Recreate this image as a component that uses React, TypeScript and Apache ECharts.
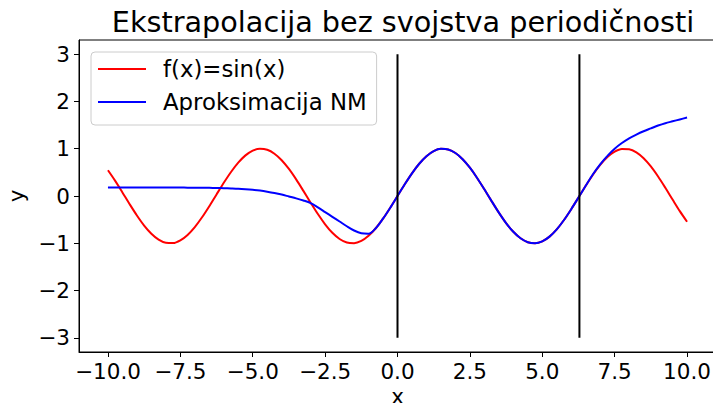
import React, { useEffect, useRef } from "react";
import * as echarts from "echarts";

const TITLE = "Ekstrapolacija bez svojstva periodičnosti";
const SIN_LABEL = "f(x)=sin(x)";
const NM_LABEL = "Aproksimacija NM";

const xs = [
  -10, -9.75, -9.5, -9.25, -9, -8.75, -8.5, -8.25, -8, -7.75, -7.5, -7.25, -7, -6.75, -6.5, -6.25,
  -6, -5.75, -5.5, -5.25, -5, -4.75, -4.5, -4.25, -4, -3.75, -3.5, -3.25, -3, -2.75, -2.5, -2.25,
  -2, -1.75, -1.5, -1.25, -1, -0.75, -0.5, -0.25, 0, 0.25, 0.5, 0.75, 1, 1.25, 1.5, 1.75,
  2, 2.25, 2.5, 2.75, 3, 3.25, 3.5, 3.75, 4, 4.25, 4.5, 4.75, 5, 5.25, 5.5, 5.75,
  6, 6.25, 6.5, 6.75, 7, 7.25, 7.5, 7.75, 8, 8.25, 8.5, 8.75, 9, 9.25, 9.5, 9.75, 10,
];
const sinY = [
  0.544, 0.32, 0.075, -0.174, -0.412, -0.625, -0.798, -0.923, -0.989, -0.995, -0.938, -0.823, -0.657, -0.45, -0.215, 0.033,
  0.279, 0.508, 0.706, 0.859, 0.959, 0.999, 0.978, 0.895, 0.757, 0.572, 0.351, 0.108, -0.141, -0.382, -0.598, -0.778,
  -0.909, -0.984, -0.997, -0.949, -0.841, -0.682, -0.479, -0.247, 0, 0.247, 0.479, 0.682, 0.841, 0.949, 0.997, 0.984,
  0.909, 0.778, 0.598, 0.382, 0.141, -0.108, -0.351, -0.572, -0.757, -0.895, -0.978, -0.999, -0.959, -0.859, -0.706, -0.508,
  -0.279, -0.033, 0.215, 0.45, 0.657, 0.823, 0.938, 0.995, 0.989, 0.923, 0.798, 0.625, 0.412, 0.174, -0.075, -0.32, -0.544,
];
const nmY = [
  0.18, 0.18, 0.18, 0.18, 0.18, 0.18, 0.18, 0.18, 0.179, 0.179, 0.178, 0.177, 0.176, 0.174, 0.172, 0.169,
  0.166, 0.161, 0.155, 0.145, 0.132, 0.115, 0.092, 0.064, 0.03, -0.01, -0.05, -0.095, -0.15, -0.24, -0.34, -0.44,
  -0.54, -0.64, -0.73, -0.79, -0.8, -0.682, -0.479, -0.247, 0, 0.247, 0.479, 0.682, 0.841, 0.949, 0.997, 0.984,
  0.909, 0.778, 0.598, 0.382, 0.141, -0.108, -0.351, -0.572, -0.757, -0.895, -0.978, -0.999, -0.959, -0.859, -0.706, -0.508,
  -0.279, -0.033, 0.215, 0.46, 0.67, 0.85, 1.0, 1.12, 1.22, 1.3, 1.37, 1.43, 1.49, 1.54, 1.58, 1.62, 1.66,
];

const vlineX = [0, 6.283];
const vlineY = [-3, 3];

const xTicks = [-10, -7.5, -5, -2.5, 0, 2.5, 5, 7.5, 10];
const yTicks = [-3, -2, -1, 0, 1, 2, 3];

const FONT = "DejaVu Sans";
const fmtMinus = (s: string) => s.replace("-", "\u2212");

export default function App() {
  const ref = useRef<HTMLDivElement>(null);
  useEffect(() => {
    document.body.style.margin = "0";
    const chart = echarts.init(ref.current!, null, { renderer: "svg" });
    const tickStyle = { color: "#000", fontSize: 21.5, fontFamily: FONT };
    const vlineSeries = vlineX.map((vx) => ({
      type: "line",
      data: vlineY.map((vy) => [vx, vy]),
      symbol: "none",
      lineStyle: { color: "#000", width: 2 },
      silent: true,
      z: 3,
    }));
    chart.setOption({
      animation: false,
      title: {
        text: TITLE,
        left: 398,
        textAlign: "center",
        top: 2,
        textStyle: { color: "#000", fontSize: 28.7, fontWeight: "normal", fontFamily: FONT },
      },
      grid: {
        left: 79,
        top: 40,
        width: 637,
        height: 312,
        show: true,
        borderColor: "#000",
        borderWidth: 1,
        containLabel: false,
        outerBoundsMode: "none",
      },
      legend: {
        left: 91,
        top: 52,
        orient: "vertical",
        data: [
          { name: SIN_LABEL, icon: "rect" },
          { name: NM_LABEL, icon: "rect" },
        ],
        itemWidth: 48,
        itemHeight: 2,
        itemGap: 7,
        padding: [4, 10, 10, 7],
        borderColor: "#cccccc",
        borderWidth: 1,
        borderRadius: 4,
        backgroundColor: "rgba(255,255,255,0.8)",
        textStyle: { color: "#000", fontSize: 22.8, fontFamily: FONT, lineHeight: 26, padding: [0, 0, 0, 12] },
      },
      xAxis: {
        type: "value",
        min: -11,
        max: 11,
        name: "x",
        nameLocation: "middle",
        nameGap: 34,
        nameMoveOverlap: false,
        nameTextStyle: { ...tickStyle, lineHeight: 21 },
        axisLine: { show: true, onZero: false, lineStyle: { color: "#000", width: 1 } },
        axisTick: { show: true, inside: false, length: 5, lineStyle: { color: "#000" }, customValues: xTicks },
        axisLabel: {
          ...tickStyle,
          margin: 8,
          customValues: xTicks,
          formatter: (v: number) => fmtMinus(v.toFixed(1)),
        },
        splitLine: { show: false },
      },
      yAxis: {
        type: "value",
        min: -3.3,
        max: 3.3,
        name: "y",
        nameLocation: "middle",
        nameGap: 50,
        nameTextStyle: tickStyle,
        axisLine: { show: true, onZero: false, lineStyle: { color: "#000", width: 1 } },
        axisTick: { show: true, inside: false, length: 5, lineStyle: { color: "#000" }, customValues: yTicks },
        axisLabel: {
          ...tickStyle,
          margin: 9,
          customValues: yTicks,
          formatter: (v: number) => fmtMinus(String(v)),
        },
        splitLine: { show: false },
      },
      series: [
        {
          name: SIN_LABEL,
          type: "line",
          data: xs.map((x, i) => [x, sinY[i]]),
          smooth: 0.3,
          symbol: "none",
          lineStyle: { color: "#ff0000", width: 2 },
          itemStyle: { color: "#ff0000" },
          z: 2,
        },
        {
          name: NM_LABEL,
          type: "line",
          data: xs.map((x, i) => [x, nmY[i]]),
          smooth: 0.3,
          symbol: "none",
          lineStyle: { color: "#0000ff", width: 2 },
          itemStyle: { color: "#0000ff" },
          z: 2,
        },
        ...vlineSeries,
      ],
    });
    return () => chart.dispose();
  }, []);
  return <div ref={ref} style={{ width: 713, height: 403 }} />;
}
